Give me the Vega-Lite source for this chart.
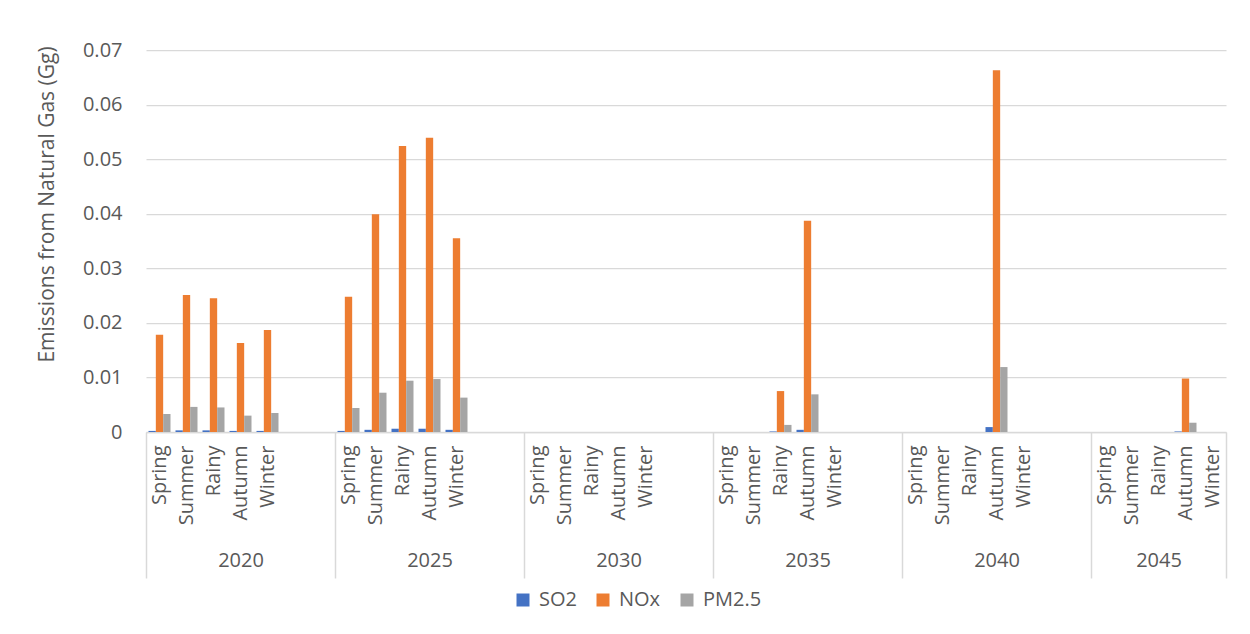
{
  "$schema": "https://vega.github.io/schema/vega-lite/v6.json",
  "width": 1080,
  "height": 382,
  "autosize": {"type": "none"},
  "padding": {"left": 146, "top": 50, "right": 24, "bottom": 202},
  "background": "white",
  "config": {"view": {"stroke": null}, "font": "Open Sans"},
  "data": {"values": [
    {"category": "2020|Spring", "pollutant": "SO2", "value": 0.0002},
    {"category": "2020|Spring", "pollutant": "NOx", "value": 0.0178},
    {"category": "2020|Spring", "pollutant": "PM2.5", "value": 0.0033},
    {"category": "2020|Summer", "pollutant": "SO2", "value": 0.0003},
    {"category": "2020|Summer", "pollutant": "NOx", "value": 0.0251},
    {"category": "2020|Summer", "pollutant": "PM2.5", "value": 0.0046},
    {"category": "2020|Rainy", "pollutant": "SO2", "value": 0.0003},
    {"category": "2020|Rainy", "pollutant": "NOx", "value": 0.0245},
    {"category": "2020|Rainy", "pollutant": "PM2.5", "value": 0.0045},
    {"category": "2020|Autumn", "pollutant": "SO2", "value": 0.0002},
    {"category": "2020|Autumn", "pollutant": "NOx", "value": 0.0163},
    {"category": "2020|Autumn", "pollutant": "PM2.5", "value": 0.0030},
    {"category": "2020|Winter", "pollutant": "SO2", "value": 0.0002},
    {"category": "2020|Winter", "pollutant": "NOx", "value": 0.0187},
    {"category": "2020|Winter", "pollutant": "PM2.5", "value": 0.0035},
    {"category": "2025|Spring", "pollutant": "SO2", "value": 0.0002},
    {"category": "2025|Spring", "pollutant": "NOx", "value": 0.0248},
    {"category": "2025|Spring", "pollutant": "PM2.5", "value": 0.0044},
    {"category": "2025|Summer", "pollutant": "SO2", "value": 0.0004},
    {"category": "2025|Summer", "pollutant": "NOx", "value": 0.0399},
    {"category": "2025|Summer", "pollutant": "PM2.5", "value": 0.0072},
    {"category": "2025|Rainy", "pollutant": "SO2", "value": 0.0006},
    {"category": "2025|Rainy", "pollutant": "NOx", "value": 0.0524},
    {"category": "2025|Rainy", "pollutant": "PM2.5", "value": 0.0094},
    {"category": "2025|Autumn", "pollutant": "SO2", "value": 0.0006},
    {"category": "2025|Autumn", "pollutant": "NOx", "value": 0.0539},
    {"category": "2025|Autumn", "pollutant": "PM2.5", "value": 0.0097},
    {"category": "2025|Winter", "pollutant": "SO2", "value": 0.0004},
    {"category": "2025|Winter", "pollutant": "NOx", "value": 0.0355},
    {"category": "2025|Winter", "pollutant": "PM2.5", "value": 0.0063},
    {"category": "2030|Spring", "pollutant": "SO2", "value": 0},
    {"category": "2030|Spring", "pollutant": "NOx", "value": 0},
    {"category": "2030|Spring", "pollutant": "PM2.5", "value": 0},
    {"category": "2030|Summer", "pollutant": "SO2", "value": 0},
    {"category": "2030|Summer", "pollutant": "NOx", "value": 0},
    {"category": "2030|Summer", "pollutant": "PM2.5", "value": 0},
    {"category": "2030|Rainy", "pollutant": "SO2", "value": 0},
    {"category": "2030|Rainy", "pollutant": "NOx", "value": 0},
    {"category": "2030|Rainy", "pollutant": "PM2.5", "value": 0},
    {"category": "2030|Autumn", "pollutant": "SO2", "value": 0},
    {"category": "2030|Autumn", "pollutant": "NOx", "value": 0},
    {"category": "2030|Autumn", "pollutant": "PM2.5", "value": 0},
    {"category": "2030|Winter", "pollutant": "SO2", "value": 0},
    {"category": "2030|Winter", "pollutant": "NOx", "value": 0},
    {"category": "2030|Winter", "pollutant": "PM2.5", "value": 0},
    {"category": "2035|Spring", "pollutant": "SO2", "value": 0},
    {"category": "2035|Spring", "pollutant": "NOx", "value": 0},
    {"category": "2035|Spring", "pollutant": "PM2.5", "value": 0},
    {"category": "2035|Summer", "pollutant": "SO2", "value": 0},
    {"category": "2035|Summer", "pollutant": "NOx", "value": 0},
    {"category": "2035|Summer", "pollutant": "PM2.5", "value": 0},
    {"category": "2035|Rainy", "pollutant": "SO2", "value": 0.0001},
    {"category": "2035|Rainy", "pollutant": "NOx", "value": 0.0075},
    {"category": "2035|Rainy", "pollutant": "PM2.5", "value": 0.0013},
    {"category": "2035|Autumn", "pollutant": "SO2", "value": 0.0004},
    {"category": "2035|Autumn", "pollutant": "NOx", "value": 0.0387},
    {"category": "2035|Autumn", "pollutant": "PM2.5", "value": 0.0069},
    {"category": "2035|Winter", "pollutant": "SO2", "value": 0},
    {"category": "2035|Winter", "pollutant": "NOx", "value": 0},
    {"category": "2035|Winter", "pollutant": "PM2.5", "value": 0},
    {"category": "2040|Spring", "pollutant": "SO2", "value": 0},
    {"category": "2040|Spring", "pollutant": "NOx", "value": 0},
    {"category": "2040|Spring", "pollutant": "PM2.5", "value": 0},
    {"category": "2040|Summer", "pollutant": "SO2", "value": 0},
    {"category": "2040|Summer", "pollutant": "NOx", "value": 0},
    {"category": "2040|Summer", "pollutant": "PM2.5", "value": 0},
    {"category": "2040|Rainy", "pollutant": "SO2", "value": 0},
    {"category": "2040|Rainy", "pollutant": "NOx", "value": 0},
    {"category": "2040|Rainy", "pollutant": "PM2.5", "value": 0},
    {"category": "2040|Autumn", "pollutant": "SO2", "value": 0.0009},
    {"category": "2040|Autumn", "pollutant": "NOx", "value": 0.0663},
    {"category": "2040|Autumn", "pollutant": "PM2.5", "value": 0.0119},
    {"category": "2040|Winter", "pollutant": "SO2", "value": 0},
    {"category": "2040|Winter", "pollutant": "NOx", "value": 0},
    {"category": "2040|Winter", "pollutant": "PM2.5", "value": 0},
    {"category": "2045|Spring", "pollutant": "SO2", "value": 0},
    {"category": "2045|Spring", "pollutant": "NOx", "value": 0},
    {"category": "2045|Spring", "pollutant": "PM2.5", "value": 0},
    {"category": "2045|Summer", "pollutant": "SO2", "value": 0},
    {"category": "2045|Summer", "pollutant": "NOx", "value": 0},
    {"category": "2045|Summer", "pollutant": "PM2.5", "value": 0},
    {"category": "2045|Rainy", "pollutant": "SO2", "value": 0},
    {"category": "2045|Rainy", "pollutant": "NOx", "value": 0},
    {"category": "2045|Rainy", "pollutant": "PM2.5", "value": 0},
    {"category": "2045|Autumn", "pollutant": "SO2", "value": 0.0001},
    {"category": "2045|Autumn", "pollutant": "NOx", "value": 0.0098},
    {"category": "2045|Autumn", "pollutant": "PM2.5", "value": 0.0017},
    {"category": "2045|Winter", "pollutant": "SO2", "value": 0},
    {"category": "2045|Winter", "pollutant": "NOx", "value": 0},
    {"category": "2045|Winter", "pollutant": "PM2.5", "value": 0}
  ]},
  "layer": [
    {
      "mark": {"type": "bar"},
      "encoding": {
        "x": {
          "field": "category", "type": "nominal", "sort": null,
          "scale": {
            "domain": ["2020|Spring","2020|Summer","2020|Rainy","2020|Autumn","2020|Winter","2020|_1","2020|_2",
                       "2025|Spring","2025|Summer","2025|Rainy","2025|Autumn","2025|Winter","2025|_1","2025|_2",
                       "2030|Spring","2030|Summer","2030|Rainy","2030|Autumn","2030|Winter","2030|_1","2030|_2",
                       "2035|Spring","2035|Summer","2035|Rainy","2035|Autumn","2035|Winter","2035|_1","2035|_2",
                       "2040|Spring","2040|Summer","2040|Rainy","2040|Autumn","2040|Winter","2040|_1","2040|_2",
                       "2045|Spring","2045|Summer","2045|Rainy","2045|Autumn","2045|Winter"],
            "paddingInner": 0, "paddingOuter": 0
          },
          "axis": {
            "orient": "bottom", "title": null, "grid": false,
            "labelAngle": -90,
            "labelExpr": "isString(datum.value) ? (indexof(datum.value, '_') >= 0 ? '' : split(datum.value, '|')[1]) : ''",
            "ticks": false, "domainColor": "#d9d9d9", "domainWidth": 1.5,
            "labelPadding": 13, "labelFontSize": 20, "labelColor": "#595959",
            "labelOverlap": false, "labelBound": false
          }
        },
        "xOffset": {
          "field": "pollutant", "type": "nominal", "sort": ["SO2", "NOx", "PM2.5"],
          "scale": {"paddingInner": 0, "paddingOuter": 0.34}
        },
        "y": {
          "field": "value", "type": "quantitative",
          "scale": {"domain": [0, 0.07], "nice": false},
          "axis": {
            "values": [0, 0.01, 0.02, 0.03, 0.04, 0.05, 0.06, 0.07],
            "labelExpr": "datum.value == 0 ? '0' : format(datum.value, '.2f')",
            "domain": false, "ticks": false,
            "gridColor": "#d9d9d9", "gridWidth": 1.25,
            "labelPadding": 24, "labelFontSize": 20, "labelColor": "#595959",
            "title": "Emissions from Natural Gas (Gg)",
            "titleFontSize": 21, "titleFontWeight": "normal", "titleColor": "#595959",
            "titlePadding": 25, "titleY": 154
          }
        },
        "color": {
          "field": "pollutant", "type": "nominal",
          "scale": {"domain": ["SO2", "NOx", "PM2.5"], "range": ["#4472C4", "#ED7D31", "#A5A5A5"]},
          "legend": {
            "orient": "none", "legendX": 367, "legendY": 540,
            "direction": "horizontal", "title": null,
            "symbolType": "square", "symbolSize": 169, "symbolStrokeWidth": 0,
            "labelFontSize": 20, "labelColor": "#595959",
            "columnPadding": 16, "labelOffset": 6, "padding": 0
          }
        }
      }
    },
    {
      "mark": {"type": "bar", "opacity": 0},
      "encoding": {
        "x": {
          "field": "category", "type": "nominal", "sort": null,
          "axis": {
            "orient": "bottom", "title": null, "grid": false,
            "labelAngle": 0, "domain": false,
            "ticks": true, "tickBand": "extent", "tickSize": 146,
            "tickColor": "#d9d9d9", "tickWidth": 1.5,
            "tickOpacity": {"condition": {"test": "!isString(datum.value) || indexof(datum.value, '_2') >= 0 || datum.value == '2045|Winter'", "value": 1}, "value": 0},
            "labelExpr": "isString(datum.value) && ((indexof(datum.value, 'Autumn') >= 0 && indexof(datum.value, '2045') < 0) || datum.value == '2045|Rainy') ? split(datum.value, '|')[0] : ''",
            "labelPadding": -28, "labelFontSize": 20, "labelColor": "#595959",
            "labelOverlap": false, "labelBound": false
          }
        }
      }
    }
  ],
  "resolve": {"axis": {"x": "independent"}}
}
